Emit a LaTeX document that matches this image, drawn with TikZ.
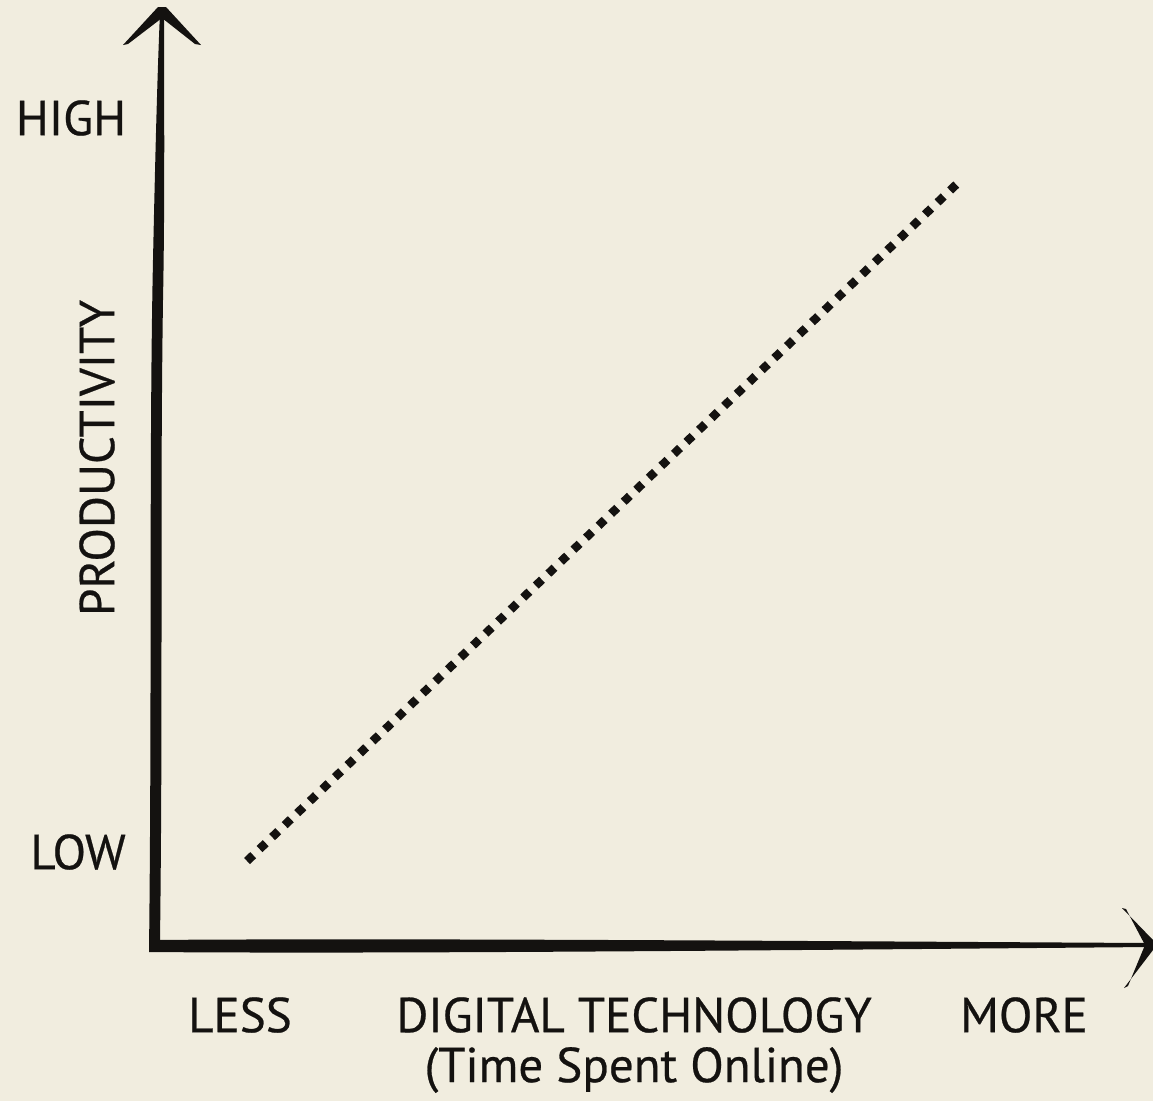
\documentclass[tikz,border=0pt]{standalone}
\usepackage{fontspec}
\setmainfont{PT Sans}
\newfontfamily\lblfont[FakeBold=0.5]{PT Sans}
\definecolor{bg}{HTML}{F1EDDF}
\definecolor{ink}{HTML}{141210}
\begin{document}
\begin{tikzpicture}[x=1pt,y=-1pt,
  lbl/.style={text=ink,font=\lblfont\fontsize{49}{53}\selectfont,inner sep=0pt,anchor=center},
  inkfill/.style={fill=ink,draw=none}]
\fill[bg] (0,0) rectangle (1153,1101);
\useasboundingbox (0,0) rectangle (1153,1101);
% axes (tapered strokes)
\coordinate (origin) at (155,946);
\coordinate (ytip) at (162,8);
\coordinate (xtip) at (1153,945);
\fill[inkfill] (149,951) .. controls (152,700) and (149,450) .. (153,260)
  .. controls (156,120) and (158,60) .. (160,12) -- (164,12)
  .. controls (164,80) and (165,200) .. (163,300)
  .. controls (160,500) and (163,700) .. (160,941) -- cycle;
\fill[inkfill] (149,940) .. controls (400,938) and (800,941) .. (1150,943)
  -- (1150,947) .. controls (800,950) and (400,954) .. (149,952) -- cycle;
% arrowheads
\fill[inkfill] (123,45) -- (158,7) -- (166,7) -- (201,45) -- (195,44) -- (162,18) -- (128,44) -- cycle;
\fill[inkfill] (1122,908) -- (1153,940) -- (1153,950) -- (1124,988) -- (1128,986) -- (1145,945) -- (1126,909) -- cycle;
% dotted trend
\coordinate (dstart) at (247,861);
\coordinate (dend) at (961,180);
\draw[ink,line width=8.5pt,line cap=butt,dash pattern=on 8.5pt off 8.85pt] (dstart) -- (dend);
% labels
\node[lbl] (high) at (71,118) {HIGH};
\node[lbl] (low) at (78,852) {LOW};
\node[lbl,rotate=90] (prod) at (97,458) {PRODUCTIVITY};
\node[lbl] (less) at (240,1015) {LESS};
\node[lbl] (digi) at (634,1015) {DIGITAL TECHNOLOGY};
\node[lbl] (time) at (634,1070) {(Time Spent Online)};
\node[lbl] (more) at (1024,1015) {MORE};
\end{tikzpicture}
\end{document}
